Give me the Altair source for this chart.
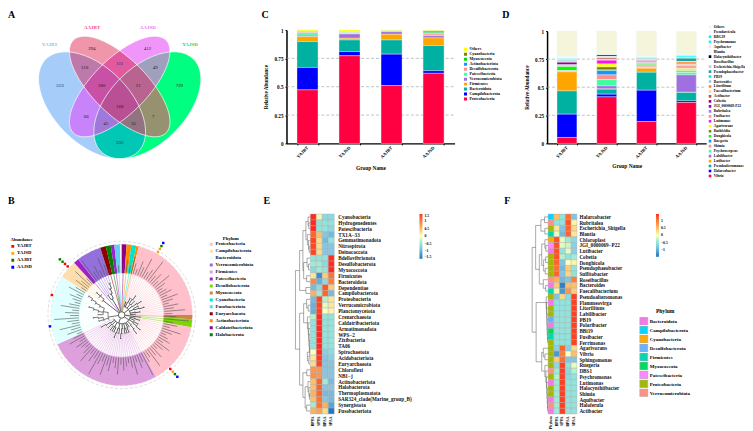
import math
import pandas as pd
import altair as alt

SERIF = "Liberation Serif"

# ---------- values ----------
groups = ["YAJBT", "YAJSD", "AAJBT", "AAJSD"]

c_taxa = ["Others", "Cyanobacteria", "Myxococcota", "Actinobacteriota", "Desulfobacterota", "Patescibacteria",
          "Verrucomicrobiota", "Firmicutes", "Bacteroidota", "Campilobacterota", "Proteobacteria"]
c_colors = ["#FFFF00", "#808000", "#00E000", "#1E90FF", "#FF9090", "#40FFA0",
            "#A070E0", "#FFA500", "#00B0A0", "#0000FF", "#FF0040"]
c_values = {
    "YAJBT": [.012, .005, .002, .003, .006, .020, .012, .044, .228, .198, .472],
    "YAJSD": [.020, .004, .002, .002, .002, .005, .038, .015, .102, .037, .773],
    "AAJBT": [.010, .001, .001, .001, .001, .002, .023, .050, .125, .277, .510],
    "AAJSD": [.008, .002, .015, .005, .015, .005, .020, .067, .222, .023, .618],
}

d_taxa = ["Others", "Pseudarcicula", "RBG19", "Psychromonas", "Aquibacter", "Blautia", "Halocynthiibacter",
          "Roseibacillus", "Escherichia-Shigella", "Pseudophaeobacter", "PB19", "Bacteroides", "Litorilituus",
          "Faecalibacterium", "Actibacter", "Cobetia", "JGI_0000069-P22", "Rubritalea", "Fusibacter", "Lutimonas",
          "Agarivorans", "Ruthfeldia", "Donghicola", "Ruegeria", "Shimia", "Psychroserpens", "Labilibacter",
          "Lutibacter", "Pseudoalteromonas", "Halarcobacter", "Vibrio"]
d_colors = ["#F5F5DC", "#E8FFFF", "#00F5E0", "#00FFFF", "#FFE4C4", "#F0F8FF", "#000000",
            "#F5FFFA", "#C8C8C8", "#20A0A0", "#00E5D0", "#87CEEB", "#FF7F24",
            "#FFC8A0", "#CD5030", "#A00090", "#A000D0", "#9080F0", "#FF9080", "#FF10F0",
            "#FFFF00", "#808000", "#00FF00", "#1E90FF", "#FF9090", "#40FFA0", "#A070E0",
            "#FFA500", "#00B0A0", "#0000FF", "#FF0040"]
d_values = {
    "YAJBT": [.224, .020, .003, .002, .003, .001, .001, .001, .002, .008, .002, .002, .003, .002, .004, .020, .006,
              .004, .002, .004, .001, .002, .035, .002, .003, .004, .003, .169, .207, .207, .053],
    "YAJSD": [.207, .002, .001, .001, .001, .002, .012, .002, .002, .002, .001, .002, .002, .002, .012, .003, .002,
              .002, .002, .033, .027, .026, .006, .038, .042, .056, .028, .002, .044, .024, .414],
    "AAJBT": [.222, .015, .002, .002, .001, .001, .001, .001, .001, .008, .003, .002, .002, .001, .002, .004, .006,
              .006, .004, .008, .002, .004, .012, .003, .010, .006, .002, .036, .160, .278, .195],
    "AAJSD": [.205, .010, .004, .012, .002, .002, .001, .001, .001, .030, .002, .002, .018, .005, .004, .002, .002,
              .004, .020, .003, .019, .002, .011, .002, .002, .020, .155, .002, .074, .015, .364],
}

venn_sets = ["YAJBT", "AAJBT", "AAJSD", "YAJSD"]
venn_set_colors = ["#8EC0F5", "#EE4A7C", "#EE70F5", "#00E060"]
venn_numbers = ["513", "294", "412", "729", "110", "111", "49", "180", "21", "168", "66", "7", "45", "35", "335"]
venn_label_at = [(60.3, 84), (92.3, 47), (148.3, 47), (180.3, 84), (85, 66.5), (120.3, 62), (156, 66.5), (102, 84),
                 (139, 84), (120.3, 105), (86.7, 115), (154, 115), (106.3, 122.5), (134.3, 122.5), (120.3, 142)]
venn_region_colors = {
    "1000": "#A6CDFA", "0100": "#F096AA", "0010": "#F096FA", "0001": "#00FF80",
    "1100": "#BE78AA", "0110": "#E15AA0", "0011": "#A0A0BE", "1010": "#C882FA",
    "1001": "#00C8B4", "0101": "#96916E",
    "1110": "#C850A5", "0111": "#B96490", "1011": "#A078DC", "1101": "#917382",
    "1111": "#B95096",
}

phyla = ["Proteobacteria", "Campilobacterota", "Bacteroidota", "Verrucomicrobiota", "Firmicutes", "Patescibacteria",
         "Desulfobacterota", "Myxococcota", "Cyanobacteria", "Fusobacteriota", "Euryarchaeota", "Actinobacteriota",
         "Caldatribacteriota", "Halobacterota"]
phyla_colors = ["#FFC0CB", "#FFDEAD", "#E0FFFF", "#9370DB", "#DDA0DD", "#A020D0",
                "#7FD40A", "#CD853F", "#00E5D0", "#60D0F5", "#8B0000", "#FF8C00",
                "#8B008B", "#008000"]
# phylum, start angle, end angle, tree shape, stem depth
tree_sectors = [
    ("Caldatribacteriota", 0, 4, ".", 4),
    ("Actinobacteriota", 4, 8, ".", 4),
    ("Cyanobacteria", 8, 12, ".", 4),
    ("Actinobacteriota", 12, 14, ".", 4),
    ("Proteobacteria", 14, 90, "((..)(.(..))((.(..))(..))(.(.(..)))((..)(.(..)))(.(..))(..))", 1),
    ("Myxococcota", 90, 93.5, ".", 3),
    ("Desulfobacterota", 93.5, 100, "(..)", 3),
    ("Proteobacteria", 100, 151, "((.(..))(..)((..)(.(..)))(.(.(..)))(..))", 1),
    ("Firmicutes", 151, 245.5, "((.(..))((..)(..))(.(.(..)))((..)(.(..)))((..)(..)(..))(.(..))(.(.(..))).)", 1),
    ("Bacteroidota", 245.5, 302.7, "(.(.(..)(.(..)))((..)(.(.(..)))(.(.(.(..))))))", 2),
    ("Campilobacterota", 302.7, 317.7, "(.(.(..).))", 4),
    ("Patescibacteria", 317.7, 322, ".", 4),
    ("Verrucomicrobiota", 322, 342.3, "((..)(.(.(..))))", 3),
    ("Euryarchaeota", 342.3, 347, ".", 4),
    ("Halobacterota", 347, 351, ".", 4),
    ("Patescibacteria", 351, 354, ".", 4),
    ("Fusobacteriota", 354, 358.5, ".", 4),
]
label_lengths = [9, 13, 7, 17, 11, 6, 15, 10, 21, 8, 12, 25, 9, 14, 7, 19, 11, 6]
abundance_marks = [(30, 0, "YAJSD"), (30, 1, "YAJSD"), (30, 2, "AAJBT"), (30, 3, "AAJSD"),
                   (138, 0, "YAJBT"), (138, 1, "YAJSD"), (138, 2, "AAJBT"), (138, 3, "AAJSD"),
                   (312, 0, "YAJBT"), (312, 1, "YAJBT"), (312, 2, "AAJBT"), (312, 3, "AAJBT"),
                   (286, 0, "YAJBT"), (261, 0, "AAJSD")]
ring_radii = [73, 76.7, 80, 83.6]

e_rows = ["Cyanobacteria", "Hydrogenedentes", "Patescibacteria", "TX1A−33", "Gemmatimonadota", "Nitrospirota",
          "Deinococcota", "Bdellovibrionota", "Desulfobacterota", "Myxococcota", "Firmicutes", "Bacteroidota",
          "Dependentiae", "Campilobacterota", "Proteobacteria", "Verrucomicrobiota", "Planctomycetota",
          "Crenarchaeota", "Caldatribacteriota", "Armatimonadota", "WPS−2", "Zixibacteria", "TA06", "Spirochaetota",
          "Acidobacteriota", "Euryarchaeota", "Chloroflexi", "NB1−j", "Actinobacteriota", "Halobacterota",
          "Thermoplasmatota", "SAR324_clade(Marine_group_B)", "Synergistota", "Fusobacteriota"]
e_cols = ["BPYA", "SPYA", "BPAA", "SPAA"]
e_values = [[1.5, .1, -.6, -.6], [1.5, -.5, -.5, -.5], [1.5, -.5, -.5, -.6], [1.2, .5, -.8, -.9], [1.4, .3, -.9, -.5],
            [1.4, .3, -.8, -.8], [1.4, .3, -.8, -.8], [-.5, -.5, -.5, 1.5], [-.4, -.4, -.6, 1.5], [-.6, -.4, -.5, 1.5],
            [.2, -1.3, .4, 1.1], [.9, -1, -.6, 1], [-.9, -.6, 1.3, .4], [.6, -.4, 1.2, -.9], [-.9, 1.4, -.3, .2],
            [-1, 1.4, -.1, .2], [-1, 1.4, 0, .1], [-.3, 1.5, -.5, -.5], [-.5, 1.5, -.5, -.5], [-.5, 1.5, -.5, -.5],
            [-.5, 1.5, -.5, -.5], [-.5, 1.5, -.5, -.5], [-.5, 1.5, -.5, -.5], [0, 1.5, -.7, -.6], [.2, 1.45, -.8, -.7],
            [.3, 1.4, -.8, -.8], [.8, .8, -.8, -.8], [.85, .8, -.8, -.8], [.5, 1.2, -.4, -.9], [.5, 1.2, -.8, -.8],
            [.6, 1.2, -.9, -.9], [.5, 1.1, -.8, -.9], [-.4, 1.1, .6, -1.1], [.6, .7, .3, -1.5]]
e_tree = (1.0,
          (.72, (.5, (.3, (.15, 0, (.1, 1, 2)), (.2, 3, (.12, 4, (.08, 5, 6)))),
                 (.45, (.22, 7, (.12, 8, 9)), (.25, 10, 11))),
           (.3, 12, 13)),
          (.72, (.45, (.25, 14, (.15, 15, 16)),
                 (.2, 17, (.14, 18, (.11, 19, (.09, 20, (.07, 21, (.05, 22, (.2, 23, (.1, 24, 25))))))))),
           (.5, (.24, 26, 27), (.35, (.16, 28, (.1, 29, (.06, 30, 31))), (.25, 32, 33)))))

f_rows = ["Halarcobacter", "Rubritalea", "Escherichia_Shigella", "Blautia", "Chloroplast", "JGI_0000069−P22",
          "Lutibacter", "Cobetia", "Donghicola", "Pseudophaeobacter", "Sulfitobacter", "Roseibacillus", "Bacteroides",
          "Faecalibacterium", "Pseudoalteromonas", "Flammeovirga", "Litorilituus", "Labilibacter", "PB19",
          "Polaribacter", "BBi19", "Fusibacter", "Ferrimonas", "Agarivorans", "Vibrio", "Sphingomonas", "Ruegeria",
          "DBS1", "Psychromonas", "Lutimonas", "Halocynthiibacter", "Shimia", "Aquibacter", "Haloferula", "Actibacter"]
f_cols = ["Phylum", "BPYA", "SPYA", "BPAA", "SPAA"]
f_phylum = ["Campilobacterota", "Verrucomicrobiota", "Proteobacteria", "Firmicutes", "Cyanobacteria", "Patescibacteria",
            "Bacteroidota", "Proteobacteria", "Proteobacteria", "Proteobacteria", "Proteobacteria", "Verrucomicrobiota",
            "Bacteroidota", "Firmicutes", "Proteobacteria", "Bacteroidota", "Proteobacteria", "Proteobacteria",
            "Desulfobacterota", "Bacteroidota", "Myxococcota", "Firmicutes", "Proteobacteria", "Proteobacteria",
            "Proteobacteria", "Proteobacteria", "Proteobacteria", "Verrucomicrobiota", "Proteobacteria", "Bacteroidota",
            "Proteobacteria", "Proteobacteria", "Bacteroidota", "Verrucomicrobiota", "Bacteroidota"]
f_values = [[.5, -.5, 1.1, -.8], [-.5, -.5, 1.3, .1], [.2, -.8, 1.2, .3], [-.1, -.9, 1.2, .2], [1.3, -.1, -.4, -.6],
            [1.3, -.1, -.2, -.7], [1.3, -.5, -.1, -.7], [1.3, -.3, -.5, -.4], [1.2, -.8, 0, .1], [1.1, -.9, .4, -.5],
            [1.2, -.8, .3, -.5], [.6, -.9, -.8, 1], [.4, -1.4, .5, .5], [.1, -1.2, .8, .4], [-.8, .3, -.6, 1.4],
            [-.5, -.5, -.5, 1.4], [-.5, -.5, -.5, 1.4], [-.5, -.5, -.5, 1.4], [-.5, -.5, -.5, 1.4], [-.5, -.5, -.5, 1.4],
            [-.5, -.5, -.5, 1.4], [-.5, -.5, -.5, 1.4], [-.5, -.5, -.5, 1.4], [-.7, 1.2, -.7, .3], [-1.2, 1, 0, .5],
            [.4, 1.1, -.8, -.8], [-.6, 1.4, -.5, -.1], [-.4, 1.4, -.6, -.3], [-.3, 1.4, -.6, -.5], [-.4, 1.4, -.5, -.5],
            [-.4, 1.4, -.5, -.5], [-.4, 1.4, -.5, -.5], [-.4, 1.4, -.5, -.5], [-.4, 1.4, -.5, -.5], [-.4, 1.4, -.5, -.5]]
f_legend = ["Bacteroidota", "Campilobacterota", "Cyanobacteria", "Desulfobacterota", "Firmicutes", "Myxococcota",
            "Patescibacteria", "Proteobacteria", "Verrucomicrobiota"]
f_legend_colors = ["#F777E8", "#00D7FF", "#FFAA00", "#66B2FF", "#00D8B0", "#00D960", "#FF88FF", "#A3B800", "#FF9088"]
f_tree = (1.0,
          (.78, (.45, (.22, 0, 1), (.2, 2, 3)),
           (.55, (.4, (.2, 4, (.14, 5, 6)), (.28, (.15, 7, 8), (.18, 9, 10))), (.3, 11, (.15, 12, 13)))),
          (.75, (.12, 14, (.1, 15, (.08, 16, (.07, 17, (.06, 18, (.05, 19, (.04, 20, (.03, 21, 22)))))))),
           (.4, (.3, 23, (.2, 24, 25)), (.2, 26, (.14, 27, (.1, 28, (.08, 29, (.06, 30, (.05, 31, (.04, 32, (.03, 33, 34))))))))))
          )

heat_stops_e = [-1.5, -.75, 0, .75, 1.5]
heat_stops_f = [-1.48, -.74, 0, .74, 1.48]
heat_colors = ["#1F78C0", "#8CCBE6", "#FFFFC0", "#FD9A50", "#FF2A20"]

# ---------- layout (svg pixels): a fixed 3x2 grid ----------
COL1, COL2, COL3 = 280, 262, 195
ROW1_H = 135
ROW2_H = 272
HEAT_TOP = 71


def txt(**kw):
    base = dict(font=SERIF, fontWeight="bold")
    base.update(kw)
    return base


def letter(s, x, y):
    return alt.Chart(pd.DataFrame({"t": [s]})).mark_text(
        **txt(fontSize=10, align="left", baseline="middle")
    ).encode(text="t:N", x=alt.value(x), y=alt.value(y))


# ---------- panel A ----------
def ellipse(cx, cy, a, b, deg, n=140):
    th = math.radians(deg)
    pts = []
    for i in range(n):
        t = 2 * math.pi * i / n
        u, v = a * math.cos(t), b * math.sin(t)
        pts.append((cx + u * math.cos(th) - v * math.sin(th), cy + u * math.sin(th) + v * math.cos(th)))
    return pts


def clip(subject, clipper):
    def area(p):
        return sum(p[i][0] * p[(i + 1) % len(p)][1] - p[(i + 1) % len(p)][0] * p[i][1] for i in range(len(p)))
    sign = 1 if area(clipper) > 0 else -1
    out = subject
    for i in range(len(clipper)):
        a, b = clipper[i], clipper[(i + 1) % len(clipper)]
        side = lambda p: sign * ((b[0] - a[0]) * (p[1] - a[1]) - (b[1] - a[1]) * (p[0] - a[0]))
        res = []
        for j in range(len(out)):
            p, q = out[j], out[(j + 1) % len(out)]
            sp, sq = side(p), side(q)
            if sp >= 0:
                res.append(p)
            if sp * sq < 0:
                t = sp / (sp - sq)
                res.append((p[0] + t * (q[0] - p[0]), p[1] + t * (q[1] - p[1])))
        out = res
        if not out:
            break
    return out


VX, VY = -8, -8
ells = [ellipse(92.5 + VX, 104.7 + VY, 65.7, 38.3, 45), ellipse(120.3 + VX, 85.8 + VY, 65.9, 27.7, 45),
        ellipse(120.3 + VX, 85.8 + VY, 65.9, 27.7, -45), ellipse(148.1 + VX, 104.7 + VY, 65.7, 38.3, -45)]
features = []
for key in sorted(venn_region_colors, key=lambda k: k.count("1")):
    poly = None
    for i, ch in enumerate(key):
        if ch == "1":
            poly = ells[i] if poly is None else clip(poly, ells[i])
    ring = [list(p) for p in poly] + [list(poly[0])]
    features.append({"type": "Feature", "properties": {"c": venn_region_colors[key]},
                     "geometry": {"type": "Polygon", "coordinates": [ring]}})
outlines = [{"type": "Feature", "properties": {},
             "geometry": {"type": "LineString", "coordinates": [list(p) for p in e] + [list(e[0])]}} for e in ells]
proj = dict(type="identity", scale=1, translate=[0, 0])
venn_fill = alt.Chart(alt.Data(values=features)).mark_geoshape(strokeWidth=0, clip=False).encode(
    color=alt.Color("properties.c:N", scale=None)).project(**proj)
venn_line = alt.Chart(alt.Data(values=outlines)).mark_geoshape(
    filled=False, stroke="#FFFFFF", strokeWidth=0.7, clip=False).project(**proj)
vdf = pd.DataFrame({"t": venn_numbers, "x": [p[0] + VX for p in venn_label_at], "y": [p[1] + VY for p in venn_label_at]})
venn_nums = alt.Chart(vdf).mark_text(font=SERIF, fontSize=5, color="#222222").encode(
    text="t:N", x=alt.X("x:Q", scale=None), y=alt.Y("y:Q", scale=None))
vsdf = pd.DataFrame({"t": venn_sets, "c": venn_set_colors, "x": [50 + VX, 92.5 + VX, 148.5 + VX, 191 + VX],
                     "y": [42.7 + VY, 25.7 + VY, 25.7 + VY, 42.7 + VY]})
venn_titles = alt.Chart(vsdf).mark_text(**txt(fontSize=5)).encode(
    text="t:N", x=alt.X("x:Q", scale=None), y=alt.Y("y:Q", scale=None), color=alt.Color("c:N", scale=None))
panel_a = alt.layer(venn_fill, venn_line, venn_nums, venn_titles, letter("A", 0, 5.5)).properties(
    width=COL1, height=ROW1_H)


# ---------- panels C, D ----------
def stacked_panel(values, taxa, colors, w_range, w, top, legend_x, legend_y, sym, clip_h, label_size,
                  y_title_off, x_title_pad, extra):
    rows = []
    for g in groups:
        for i, t in enumerate(taxa):
            rows.append({"g": g, "t": t, "v": values[g][i], "o": len(taxa) - i})
    df = pd.DataFrame(rows)
    x_scale = alt.Scale(domain=groups, range=[0, w_range], paddingInner=0.5, paddingOuter=0.25)
    y_scale = alt.Scale(domain=[0, 1], range=[ROW1_H, top], nice=False)
    y_axis = alt.Axis(values=[0, .25, .5, .75, 1], labelExpr="format(datum.value,'')", labelFont=SERIF,
                      labelFontWeight="bold", labelFontSize=5.2, labelPadding=2, tickSize=1.5,
                      tickColor="#000000", domainColor="#000000", domainWidth=1.5, grid=False,
                      titleFont=SERIF, titleFontWeight="bold", titleFontSize=5.2, titlePadding=y_title_off)
    grid = alt.Chart(pd.DataFrame({"v": [.25, .5, .75]})).mark_rule(
        color="#999999", strokeWidth=0.6, strokeDash=[3, 2]
    ).encode(y=alt.Y("v:Q", scale=y_scale, axis=y_axis, title="Relative Abundance"),
             x=alt.value(0), x2=alt.value(w_range))
    bars = alt.Chart(df).mark_bar(stroke="#EAF4F4", strokeWidth=0.4).encode(
        x=alt.X("g:N", scale=x_scale, sort=groups, title="Group Name",
                axis=alt.Axis(labelAngle=-45, labelAlign="right", labelBaseline="middle", labelFont=SERIF,
                              labelFontWeight="bold", labelFontSize=4.6, labelPadding=2, titleFont=SERIF,
                              titleFontWeight="bold", titleFontSize=5.4, titlePadding=x_title_pad, tickSize=1.5,
                              tickColor="#000000", tickBand="extent", domainColor="#000000", domainWidth=1.2)),
        y=alt.Y("v:Q", stack="zero", scale=y_scale, axis=y_axis, title="Relative Abundance"),
        color=alt.Color("t:N", scale=alt.Scale(domain=taxa, range=colors),
                        legend=alt.Legend(orient="none", legendX=legend_x, legendY=legend_y, title=None,
                                          symbolType="square", symbolSize=sym, symbolStrokeWidth=0, rowPadding=0,
                                          labelFont=SERIF, labelFontWeight="bold", labelFontSize=label_size,
                                          labelOffset=2, labelLimit=80, padding=0, symbolOffset=0, clipHeight=clip_h,
                                          symbolLimit=40)),
        order=alt.Order("o:Q", sort="ascending"),
    )
    return alt.layer(grid, bars, extra).properties(width=w, height=ROW1_H)


panel_c = stacked_panel(c_values, c_taxa, c_colors, 169, COL2, 21, 178, 38, 9, 4.8, 4, 6, 7, letter("C", -25, 5.5))
panel_d = stacked_panel(d_values, d_taxa, d_colors, 160, COL3, 22, 162, 15.5, 7, 4.52, 3.6, 5, 5, letter("D", -45, 5.5))


# ---------- panel B ----------
CX, CY = 114.3, 172.5
STEP, R_TIP, R_IN, R_OUT, R_ROOT = 5.0, 42, 42, 71, 3.7


def parse(s):
    pos = 0

    def node():
        nonlocal pos
        if s[pos] == ".":
            pos += 1
            return None
        pos += 1
        kids = []
        while s[pos] != ")":
            kids.append(node())
        pos += 1
        return kids
    return node()


def polar(r, deg):
    t = math.radians(deg)
    return r * math.sin(t), -r * math.cos(t)


tree_rows = []
label_counter = [0]
seg_id = [0]


def add_poly(pts, color, width):
    seg_id[0] += 1
    for i, (r, a) in enumerate(pts):
        x, y = polar(r, a)
        tree_rows.append({"s": seg_id[0], "i": i, "x": x, "y": y, "c": color, "w": width})


def draw(n, lo, step, depth, parent_r, leaf_color, counter, stem_color):
    r = min(38, R_ROOT + depth * STEP)
    if n is None:
        a = lo + step * (counter[0] + .5)
        counter[0] += 1
        add_poly([(parent_r, a), (R_TIP, a)], leaf_color, 0.5)
        L = label_lengths[label_counter[0] % len(label_lengths)]
        label_counter[0] += 1
        add_poly([(R_IN + 1, a), (R_IN + 1 + L, a)], "#555555", 0.6)
        return a
    angs = [draw(k, lo, step, depth + 1, r, leaf_color, counter, stem_color) for k in n]
    a = sum(angs) / len(angs)
    k = max(2, int(abs(angs[-1] - angs[0]) / 3) + 1)
    add_poly([(r, angs[0] + (angs[-1] - angs[0]) * i / k) for i in range(k + 1)], stem_color, 0.8)
    add_poly([(parent_r, a), (r, a)], stem_color, 0.8)
    return a


for ph, a0, a1, shape, depth in tree_sectors:
    col = phyla_colors[phyla.index(ph)]
    stem = "#333333" if ph != "Bacteroidota" else "#555555"
    n = shape.count(".")
    draw(parse(shape), a0, (a1 - a0) / n, depth, R_ROOT, col, [0], stem)

tree_df = pd.DataFrame(tree_rows)
sx = alt.Scale(domain=[-100, 100], range=[CX - 100, CX + 100])
sy = alt.Scale(domain=[-100, 100], range=[CY - 100, CY + 100])

sect_df = pd.DataFrame([{"p": s[0], "a": math.radians(s[1]), "b": math.radians(s[2])} for s in tree_sectors])
sectors = alt.Chart(sect_df).mark_arc(radius=R_OUT, radius2=R_IN).encode(
    theta=alt.Theta("a:Q", scale=None), theta2=alt.Theta2("b:Q"),
    x=alt.value(CX), y=alt.value(CY),
    color=alt.Color("p:N", scale=alt.Scale(domain=phyla, range=phyla_colors),
                    legend=alt.Legend(orient="none", legendX=202, legendY=93, title="Phylum", titleFont=SERIF,
                                      titleFontWeight="bold", titleFontSize=4.8, titlePadding=1, titleAnchor="middle",
                                      symbolType="square", symbolSize=9, symbolStrokeWidth=0, rowPadding=0,
                                      labelFont=SERIF, labelFontWeight="bold", labelFontSize=4.7, labelOffset=2,
                                      padding=0, clipHeight=5.08)),
)
rings = alt.Chart(pd.DataFrame({"r": ring_radii})).transform_calculate(area="PI*datum.r*datum.r").mark_point(
    shape="circle", filled=False, stroke="#BBBBBB", strokeWidth=0.5, strokeDash=[3, 2], opacity=1
).encode(x=alt.value(CX), y=alt.value(CY), size=alt.Size("area:Q", scale=None))
tree_lines = alt.Chart(tree_df).mark_line(interpolate="linear").encode(
    x=alt.X("x:Q", scale=sx, axis=None), y=alt.Y("y:Q", scale=sy, axis=None),
    detail="s:N", order="i:Q",
    stroke=alt.Stroke("c:N", scale=None), strokeWidth=alt.StrokeWidth("w:Q", scale=None))
root_circle = alt.Chart(pd.DataFrame({"a": [math.pi * R_ROOT * R_ROOT]})).mark_point(
    shape="circle", filled=False, stroke="#333333", strokeWidth=0.8, opacity=1
).encode(x=alt.value(CX), y=alt.value(CY), size=alt.Size("a:Q", scale=None))
ab_df = pd.DataFrame([{"x": polar(ring_radii[k], a)[0], "y": polar(ring_radii[k], a)[1], "g": g}
                      for a, k, g in abundance_marks])
ab_pts = alt.Chart(ab_df).mark_square(size=6, opacity=1).encode(
    x=alt.X("x:Q", scale=sx, axis=None), y=alt.Y("y:Q", scale=sy, axis=None),
    fill=alt.Fill("g:N", scale=alt.Scale(domain=groups, range=["#FF0000", "#FFA500", "#008000", "#0000FF"]),
                  legend=alt.Legend(orient="none", legendX=2.5, legendY=94, title="Abundance", titleFont=SERIF,
                                    titleFontWeight="bold", titleFontSize=4.6, titlePadding=2, symbolType="square",
                                    symbolSize=8, symbolStrokeWidth=0, rowPadding=0, labelFont=SERIF,
                                    labelFontWeight="bold", labelFontSize=4.6, labelOffset=2, padding=0, clipHeight=5.8)),
)
panel_b = alt.layer(rings, sectors, tree_lines, root_circle, ab_pts, letter("B", 0, 58)).properties(
    width=COL1, height=ROW2_H)


# ---------- heatmaps ----------
def tree_segments(spec):
    segs = []

    def walk(node):
        if isinstance(node, int):
            return node + .5, 0.0
        h = node[0]
        pts = [walk(c) for c in node[1:]]
        ys = [p[0] for p in pts]
        for y, ch in pts:
            segs.append({"x": ch, "x2": h, "y": y, "y2": y})
        segs.append({"x": h, "x2": h, "y": min(ys), "y2": max(ys)})
        return sum(ys) / len(ys), h
    walk(spec)
    return pd.DataFrame(segs)


def heat_panel(rows, cols, heat_cols, values, stops, tree, tree_w, x0, n_width, total_w, label_x, lg_x, lg_values,
               grad_len, extra, anno=None):
    xs = alt.Scale(domain=cols, range=[x0, x0 + n_width], paddingInner=0, paddingOuter=0)
    ys = alt.Scale(domain=rows, range=[HEAT_TOP, ROW2_H], paddingInner=0, paddingOuter=0)
    df = pd.DataFrame([{"r": r, "c": c, "v": values[i][j]} for i, r in enumerate(rows) for j, c in enumerate(heat_cols)])
    heat = alt.Chart(df).mark_rect(stroke="#AAAAAA", strokeWidth=0.4).encode(
        x=alt.X("c:N", scale=xs, sort=cols, title=None,
                axis=alt.Axis(labelAngle=-90, labelAlign="right", labelBaseline="middle", labelFont=SERIF,
                              labelFontWeight="bold", labelFontSize=3.8, labelPadding=2, ticks=False, domain=False)),
        y=alt.Y("r:N", scale=ys, sort=rows, title=None,
                axis=alt.Axis(orient="right", offset=-(total_w - label_x), labelFont=SERIF, labelFontWeight="bold",
                              labelFontSize=5.2, labelLimit=120, labelOverlap=False, labelPadding=0, ticks=False,
                              domain=False, labelAlign="left", labelColor="#111111")),
        color=alt.Color("v:Q", scale=alt.Scale(domain=stops, range=heat_colors, clamp=True),
                        legend=alt.Legend(orient="none", legendX=lg_x, legendY=HEAT_TOP, title=None, direction="vertical",
                                          gradientLength=grad_len, gradientThickness=3, values=lg_values,
                                          format=".1~f", labelFont=SERIF, labelFontWeight="bold", labelFontSize=3.8,
                                          labelOffset=2, gradientStrokeWidth=0, padding=0, labelOverlap=False)),
    )
    seg = tree_segments(tree)
    tx = alt.Scale(domain=[0, 1], range=[x0, x0 - tree_w])
    ty = alt.Scale(domain=[0, len(rows)], range=[HEAT_TOP, ROW2_H])
    dend = alt.Chart(seg).mark_rule(color="#555555", strokeWidth=0.5).encode(
        x=alt.X("x:Q", scale=tx, axis=None), x2="x2:Q", y=alt.Y("y:Q", scale=ty, axis=None), y2="y2:Q")
    layers = [dend, heat, extra]
    if anno is not None:
        layers.insert(1, anno(xs, ys))
    return alt.layer(*layers).resolve_scale(x="independent", y="independent").properties(width=total_w, height=ROW2_H)


def f_anno(xs, ys):
    df = pd.DataFrame({"r": f_rows, "c": [f_cols[0]] * len(f_rows), "p": f_phylum})
    return alt.Chart(df).mark_rect(stroke="#AAAAAA", strokeWidth=0.4).encode(
        x=alt.X("c:N", scale=xs, sort=f_cols, axis=None),
        y=alt.Y("r:N", scale=ys, sort=f_rows, axis=None),
        fill=alt.Fill("p:N", scale=alt.Scale(domain=f_legend, range=f_legend_colors),
                      legend=alt.Legend(orient="none", legendX=92.7, legendY=167, title="Phylum", titleFont=SERIF,
                                        titleFontWeight="bold", titleFontSize=5.6, titlePadding=2, titleAnchor="middle",
                                        symbolType="square", symbolSize=64, symbolStrokeColor="#AAAAAA",
                                        symbolStrokeWidth=0.8, rowPadding=0, labelFont=SERIF, labelFontWeight="bold",
                                        labelFontSize=5, labelOffset=1.5, labelLimit=80, padding=0, clipHeight=8.2)),
    )


panel_e = heat_panel(e_rows, e_cols, e_cols, e_values, heat_stops_e, e_tree, 15, 24, 24, COL2, 51.5, 133.7,
                     [1.5, 1, .5, 0, -.5, -1, -1.5], 45, letter("E", -23, 58))
panel_f = heat_panel(f_rows, f_cols, f_cols[1:], f_values, heat_stops_f, f_tree, 16, 1, 29, COL3, 32, 109.5,
                     [1, .5, 0, -.5, -1], 43, letter("F", -43, 58), anno=f_anno)

chart = alt.concat(panel_a, panel_c, panel_d, panel_b, panel_e, panel_f, columns=3, spacing=0, bounds="flush",
                   align="each", padding=0).resolve_scale(color="independent", fill="independent").configure(
    background="#FFFFFF", view=alt.ViewConfig(stroke=None))
chart.save("out.html", embed_options={"renderer": "svg", "actions": False})
